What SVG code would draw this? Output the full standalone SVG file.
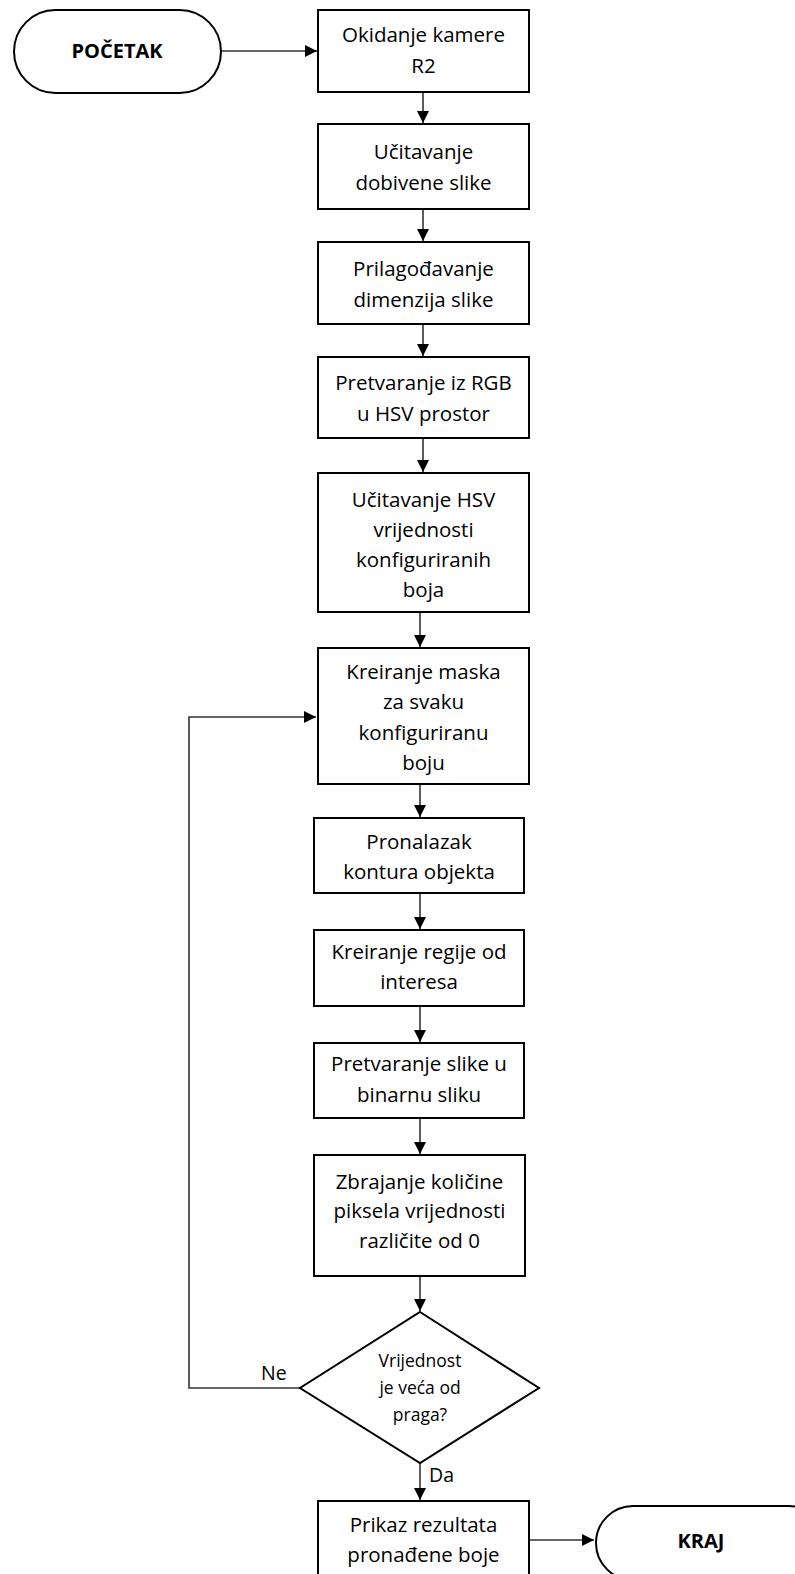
<svg xmlns="http://www.w3.org/2000/svg" width="795" height="1574" viewBox="0 0 795 1574">
<style>
.box{fill:#fff;stroke:#000;stroke-width:2}
.t{font-family:"Open Sans","Liberation Sans",sans-serif;font-size:20.5px;fill:#000;text-anchor:middle}
.d{font-size:17.5px}
.b{font-weight:bold;font-size:20px}
.c{fill:none;stroke:#333;stroke-width:1.6}
.lbl{font-family:"Open Sans","Liberation Sans",sans-serif;font-size:19.5px;fill:#000}
</style>
<defs>
<marker id="ah" markerWidth="12" markerHeight="12" refX="12" refY="6" orient="auto" markerUnits="userSpaceOnUse">
<path d="M0,0 L12,6 L0,12 Z" fill="#000"/>
</marker>
</defs>
<rect width="795" height="1574" fill="#fff"/>
<g id="connectors">
<path class="c" d="M221,51 H317" marker-end="url(#ah)"/>
<path class="c" d="M423,92 V123" marker-end="url(#ah)"/>
<path class="c" d="M423,209 V241" marker-end="url(#ah)"/>
<path class="c" d="M423,324 V356" marker-end="url(#ah)"/>
<path class="c" d="M423,438 V472" marker-end="url(#ah)"/>
<path class="c" d="M420,612 V647" marker-end="url(#ah)"/>
<path class="c" d="M420,784 V817" marker-end="url(#ah)"/>
<path class="c" d="M420,893 V929" marker-end="url(#ah)"/>
<path class="c" d="M420,1006 V1042" marker-end="url(#ah)"/>
<path class="c" d="M420,1118 V1154" marker-end="url(#ah)"/>
<path class="c" d="M420,1276 V1311" marker-end="url(#ah)"/>
<path class="c" d="M420,1463 V1500" marker-end="url(#ah)"/>
<path class="c" d="M300,1388 H189 V717 H316" marker-end="url(#ah)" stroke="#000" stroke-width="2"/>
<path class="c" d="M529,1540 H594" marker-end="url(#ah)"/>
<text class="lbl" x="261" y="1380">Ne</text>
<text class="lbl" x="429" y="1482">Da</text>
</g>
<g id="start">
<rect class="box" x="14" y="10" width="207" height="83" rx="41.5"/>
<text class="t b" x="117" y="58">POČETAK</text>
</g>
<g id="n1">
<rect class="box" x="318" y="10" width="211" height="82"/>
<text class="t" x="423.5" y="42">Okidanje kamere</text>
<text class="t" x="423.5" y="73">R2</text>
</g>
<g id="n2">
<rect class="box" x="318" y="124" width="211" height="85"/>
<text class="t" x="423.5" y="159">Učitavanje</text>
<text class="t" x="423.5" y="190">dobivene slike</text>
</g>
<g id="n3">
<rect class="box" x="318" y="242" width="211" height="82"/>
<text class="t" x="423.5" y="276">Prilagođavanje</text>
<text class="t" x="423.5" y="307">dimenzija slike</text>
</g>
<g id="n4">
<rect class="box" x="318" y="357" width="211" height="81"/>
<text class="t" x="423.5" y="390">Pretvaranje iz RGB</text>
<text class="t" x="423.5" y="421">u HSV prostor</text>
</g>
<g id="n5">
<rect class="box" x="318" y="473" width="211" height="139"/>
<text class="t" x="423.5" y="507">Učitavanje HSV</text>
<text class="t" x="423.5" y="537">vrijednosti</text>
<text class="t" x="423.5" y="567">konfiguriranih</text>
<text class="t" x="423.5" y="597">boja</text>
</g>
<g id="n6">
<rect class="box" x="318" y="648" width="211" height="136"/>
<text class="t" x="423.5" y="679">Kreiranje maska</text>
<text class="t" x="423.5" y="709">za svaku</text>
<text class="t" x="423.5" y="740">konfiguriranu</text>
<text class="t" x="423.5" y="770">boju</text>
</g>
<g id="n7">
<rect class="box" x="314" y="818" width="210" height="75"/>
<text class="t" x="419" y="849">Pronalazak</text>
<text class="t" x="419" y="879">kontura objekta</text>
</g>
<g id="n8">
<rect class="box" x="314" y="930" width="210" height="76"/>
<text class="t" x="419" y="959">Kreiranje regije od</text>
<text class="t" x="419" y="989">interesa</text>
</g>
<g id="n9">
<rect class="box" x="314" y="1043" width="210" height="75"/>
<text class="t" x="419" y="1071">Pretvaranje slike u</text>
<text class="t" x="419" y="1102">binarnu sliku</text>
</g>
<g id="n10">
<rect class="box" x="314" y="1155" width="211" height="121"/>
<text class="t" x="419.5" y="1189">Zbrajanje količine</text>
<text class="t" x="419.5" y="1218">piksela vrijednosti</text>
<text class="t" x="419.5" y="1248">različite od 0</text>
</g>
<g id="decision">
<polygon class="box" points="420,1312 539,1388 420,1463 300,1388"/>
<text class="t d" x="420" y="1367">Vrijednost</text>
<text class="t d" x="420" y="1394">je veća od</text>
<text class="t d" x="420" y="1421">praga?</text>
</g>
<g id="n11">
<rect class="box" x="318" y="1501" width="211" height="80"/>
<text class="t" x="423.5" y="1532">Prikaz rezultata</text>
<text class="t" x="423.5" y="1562">pronađene boje</text>
</g>
<g id="end">
<rect class="box" x="596" y="1506" width="230" height="74" rx="37"/>
<text class="t b" x="701" y="1548">KRAJ</text>
</g>
</svg>
